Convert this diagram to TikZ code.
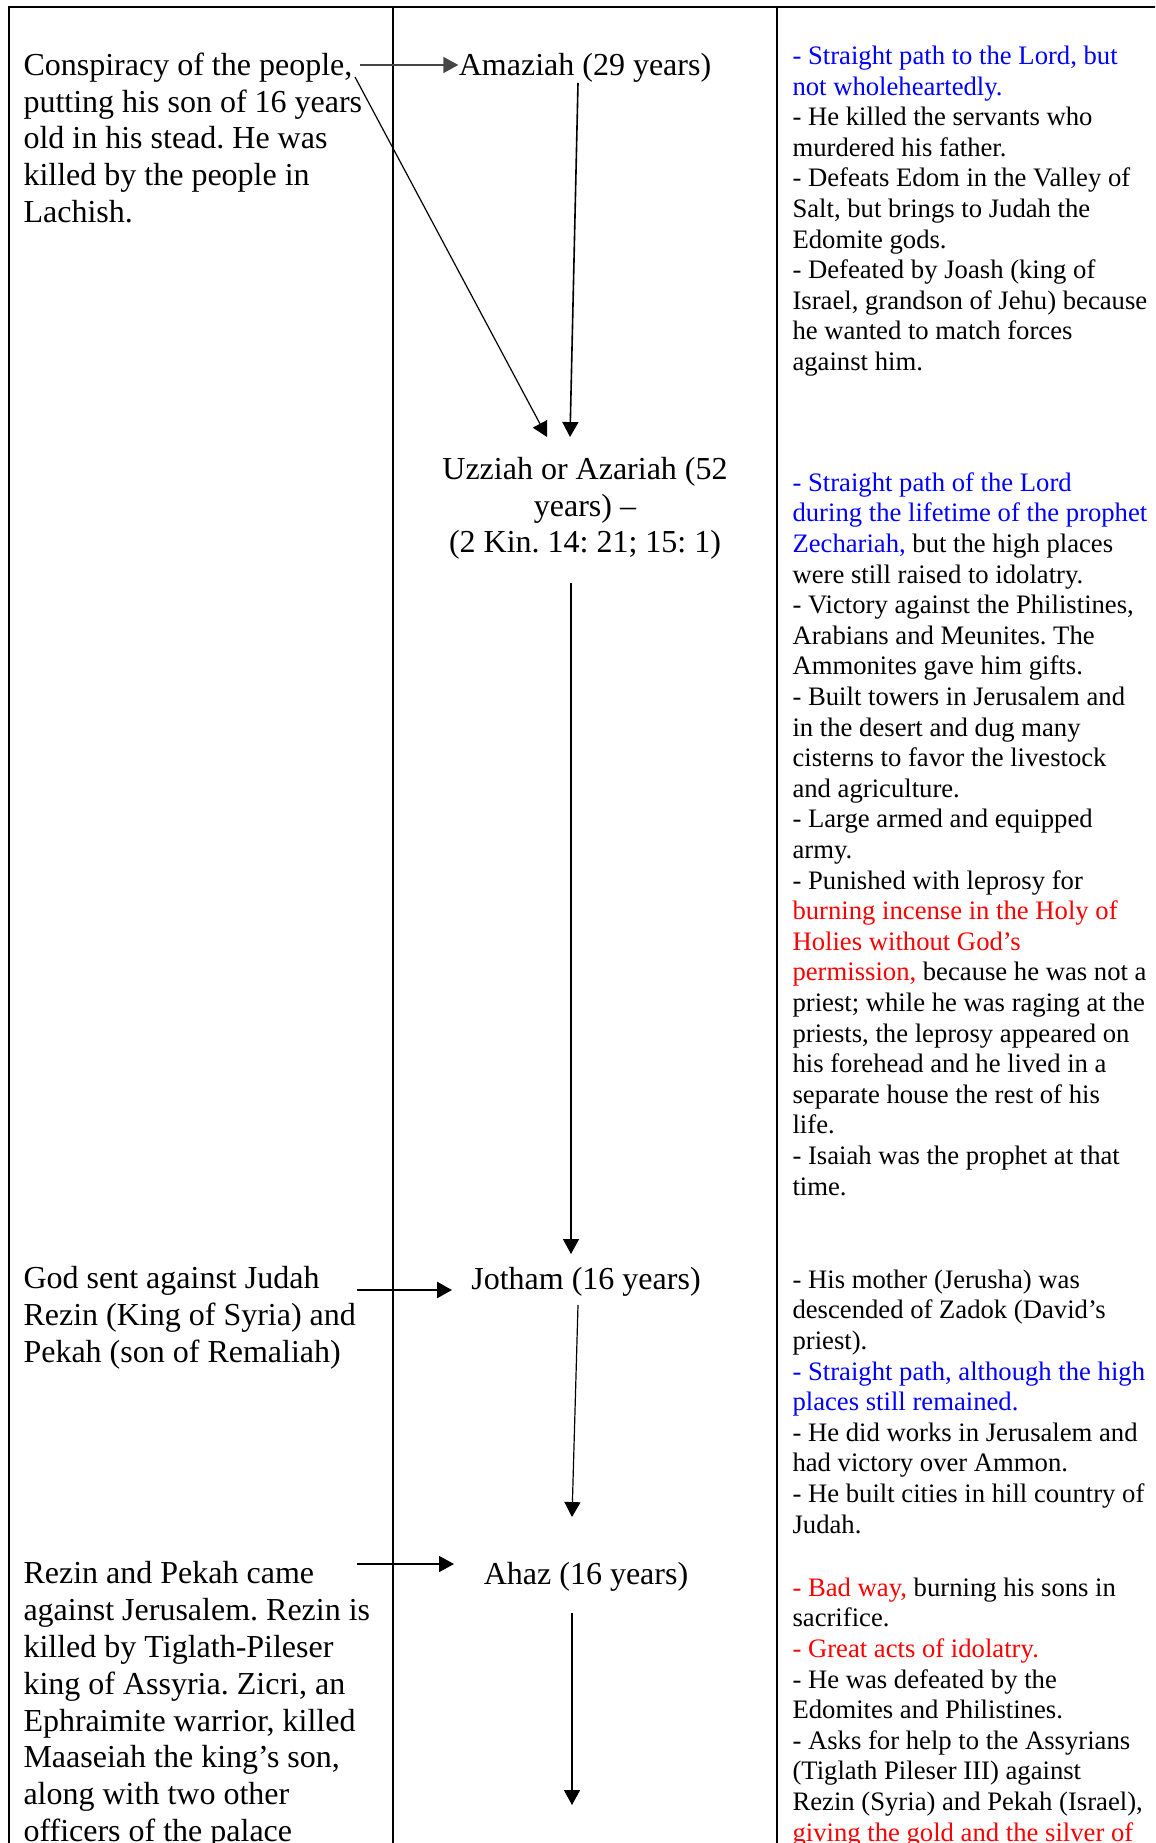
\documentclass[tikz,border=0pt]{standalone}
\usepackage{fontspec}
\setmainfont{Liberation Serif}
\usetikzlibrary{arrows.meta}
\frenchspacing
\definecolor{goodway}{RGB}{0,0,255}
\definecolor{badway}{RGB}{255,0,0}
\definecolor{arrowgray}{RGB}{70,70,70}
\newcommand{\good}[1]{\textcolor{goodway}{#1}}
\newcommand{\bad}[1]{\textcolor{badway}{#1}}
% multi-line nodes sit on the baseline of their last line
\tikzset{
  tableline/.style={line width=1pt},
  eventtext/.style={font=\fontsize{12}{13.8}\selectfont, inner sep=0, align=left, anchor=base west},
  kingtext/.style={font=\fontsize{12}{13.8}\selectfont, inner sep=0, align=center, anchor=base},
  notetext/.style={font=\fontsize{10}{11.475}\selectfont, inner sep=0, align=left, anchor=base west},
  arr/.style={-{Triangle[length=5.6pt,width=6pt]}, line width=0.45pt},
}
\begin{document}
\begin{tikzpicture}[x=0.375pt,y=-0.375pt]
\useasboundingbox (0,0) rectangle (1155,1843);
\clip (0,0) rectangle (1155,1843);

% table
\draw[tableline] (9,1850) -- (9,7) -- (1160,7);
\draw[tableline] (393,7) -- (393,1850);
\draw[tableline] (777,7) -- (777,1850);

% left column
\node[eventtext] (consp) at (23,222.5) {Conspiracy of the people,\\putting his son of 16 years\\old in his stead. He was\\killed by the people in\\Lachish.};
\node[eventtext] (godsent) at (23,1362.5) {God sent against Judah\\Rezin (King of Syria) and\\Pekah (son of Remaliah)};
\node[eventtext] (rezin) at (23,1841.5) {Rezin and Pekah came\\against Jerusalem. Rezin is\\killed by Tiglath-Pileser\\king of Assyria. Zicri, an\\Ephraimite warrior, killed\\Maaseiah the king’s son,\\along with two other\\officers of the palace};

% kings
\node[kingtext] (amaziah) at (585,75.5) {Amaziah (29 years)};
\node[kingtext] (uzziah) at (585,552.8) {Uzziah or Azariah (52\\years) –\\(2 Kin. 14: 21; 15: 1)};
\node[kingtext] (jotham) at (586,1289) {Jotham (16 years)};
\node[kingtext] (ahaz) at (586,1584) {Ahaz (16 years)};

% right column
\node[notetext] (amaziahnote) at (792,370.5) {\good{- Straight path to the Lord, but}\\\good{not wholeheartedly.}\\- He killed the servants who\\murdered his father.\\- Defeats Edom in the Valley of\\Salt, but brings to Judah the\\Edomite gods.\\- Defeated by Joash (king of\\Israel, grandson of Jehu) because\\he wanted to match forces\\against him.};
\node[notetext] (uzziahnote) at (792,1195) {\good{- Straight path of the Lord}\\\good{during the lifetime of the prophet}\\\good{Zechariah,} but the high places\\were still raised to idolatry.\\- Victory against the Philistines,\\Arabians and Meunites. The\\Ammonites gave him gifts.\\- Built towers in Jerusalem and\\in the desert and dug many\\cisterns to favor the livestock\\and agriculture.\\- Large armed and equipped\\army.\\- Punished with leprosy for\\\bad{burning incense in the Holy of}\\\bad{Holies without God’s}\\\bad{permission,} because he was not a\\priest; while he was raging at the\\priests, the leprosy appeared on\\his forehead and he lived in a\\separate house the rest of his\\life.\\- Isaiah was the prophet at that\\time.};
\node[notetext] (jothamnote) at (792,1533) {- His mother (Jerusha) was\\descended of Zadok (David’s\\priest).\\\good{- Straight path, although the high}\\\good{places still remained.}\\- He did works in Jerusalem and\\had victory over Ammon.\\- He built cities in hill country of\\Judah.};
\node[notetext] (ahaznote) at (792,1841) {\bad{- Bad way,} burning his sons in\\sacrifice.\\\bad{- Great acts of idolatry.}\\- He was defeated by the\\Edomites and Philistines.\\- Asks for help to the Assyrians\\(Tiglath Pileser III) against\\Rezin (Syria) and Pekah (Israel),\\\bad{giving the gold and the silver of}};

% connectors
\coordinate (conspend) at (360,65);
\coordinate (conspcomma) at (355,77);
\coordinate (amaziahfoot) at (578,83);
\coordinate (uzziahhead) at (570,437);
\coordinate (uzziahfoot) at (571,583);
\coordinate (jothamhead) at (571,1254);
\coordinate (godsentend) at (357,1290);
\coordinate (jothamfoot) at (578,1305);
\coordinate (ahazhead) at (572,1517);
\coordinate (rezinend) at (357,1564);
\coordinate (ahazfoot) at (572,1613);
\coordinate (ahazdown) at (572,1805);

\draw[arr,arrowgray,line width=0.6pt] (conspend) -- (conspend -| amaziah.west);
\draw[arr] (conspcomma) -- (547,437);
\draw[arr,line width=0.6pt] (amaziahfoot) -- (uzziahhead);
\draw[arr] (uzziahfoot) -- (jothamhead);
\draw[arr,line width=0.9pt] (godsentend) -- (452,1290);
\draw[arr] (jothamfoot) -- (ahazhead);
\draw[arr] (rezinend) -- (454,1564);
\draw[arr] (ahazfoot) -- (ahazdown);
\end{tikzpicture}
\end{document}
